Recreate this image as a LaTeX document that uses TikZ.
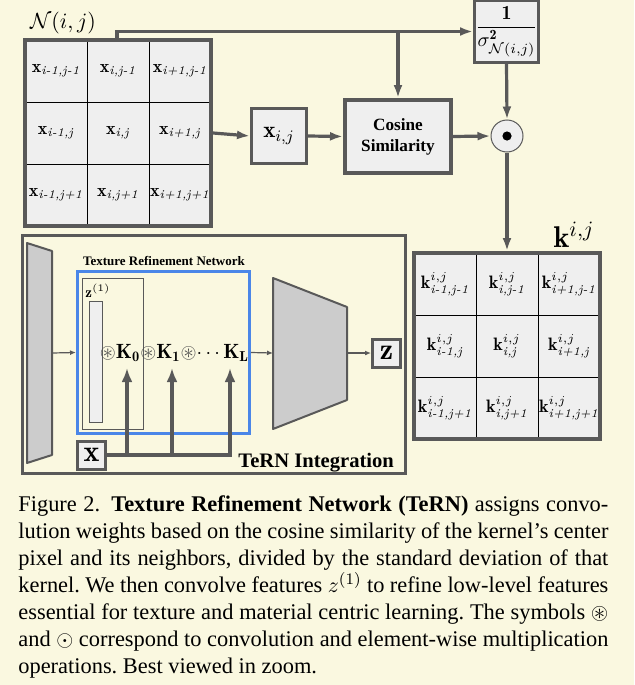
\documentclass[tikz,border=0pt]{standalone}
\usepackage{amssymb}
\usepackage{amsmath}
\usepackage{fontspec}
\newfontfamily\capfont{Liberation Serif}
\usetikzlibrary{positioning,arrows.meta}

\definecolor{bgcream}{RGB}{250,248,224}
\definecolor{linegray}{RGB}{89,89,89}
\definecolor{cellfill}{RGB}{239,239,239}
\definecolor{trapfill}{RGB}{204,204,204}
\definecolor{ternblue}{RGB}{74,134,232}

\begin{document}
\begin{tikzpicture}
           [x=0.5pt,y=-0.5pt,
            cell/.style = {draw=black,line width=0.5pt,fill=cellfill,minimum size=31pt,inner sep=0pt,font=\fontsize{9}{10}\selectfont},
            grid/.style = {draw=linegray,line width=2pt,minimum size=93pt,inner sep=0pt},
            box/.style = {draw=linegray,line width=1.5pt,fill=cellfill,inner sep=0pt},
            flow/.style = {draw=linegray,line width=1.6pt,-{Latex[length=6.5pt,width=4.5pt]}},
            thinflow/.style = {draw=linegray,line width=0.6pt,-{Latex[length=3pt,width=2.5pt]}},
            trap/.style = {draw=linegray,line width=1pt,fill=trapfill,line join=round}]
            \fill[bgcream] (0,0) rectangle (634,685);
            \useasboundingbox (0,0) rectangle (634,685);

            % neighbourhood N(i,j)
            \node[cell] (x11) at (56,71) {$\mathbf{x}_{\textit{i-1,j-1}}$};
            \node[cell] (x21) at (118,71) {$\mathbf{x}_{\textit{i,j-1}}$};
            \node[cell] (x31) at (180,71) {$\mathbf{x}_{\textit{i+1,j-1}}$};
            \node[cell] (x12) at (56,133) {$\mathbf{x}_{\textit{i-1,j}}$};
            \node[cell] (x22) at (118,133) {$\mathbf{x}_{\textit{i,j}}$};
            \node[cell] (x32) at (180,133) {$\mathbf{x}_{\textit{i+1,j}}$};
            \node[cell] (x13) at (56,195) {$\mathbf{x}_{\textit{i-1,j+1}}$};
            \node[cell] (x23) at (118,195) {$\mathbf{x}_{\textit{i,j+1}}$};
            \node[cell] (x33) at (180,195) {$\mathbf{x}_{\textit{i+1,j+1}}$};
            \node[grid] (nbhd) at (118,133) {};
            \node[font=\fontsize{11}{12}\selectfont] (nlab) at (63,23) {$\mathcal{N}(i,j)$};

            \node[box,minimum size=27.5pt,font=\fontsize{11.5}{12}\selectfont] (xij) at (279,136) {$\mathbf{x}_{i,j}$};
            \node[box,line width=2pt,minimum width=53pt,minimum height=36.5pt,align=center,
                  font=\capfont\bfseries\fontsize{8.6}{10.5}\selectfont] (cos) at (398,136.5) {Cosine\\Similarity};
            \node[box,minimum width=32pt,minimum height=31pt,font=\fontsize{10}{11}\selectfont] (sig) at (506.5,31.5)
                 {$\dfrac{\mathbf{1}}{\sigma^{\mathbf{2}}_{\mathcal{N}(i,j)}}$};
            \node[circle,draw=linegray,line width=0.5pt,fill=cellfill,minimum size=16pt,inner sep=0pt] (odot) at (507,136) {};
            \fill (odot.center) circle[radius=2.3pt];

            % kernel k^{i,j}
            \node[cell] (k11) at (445,284) {$\mathbf{k}^{i,j}_{\textit{i-1,j-1}}$};
            \node[cell] (k21) at (507,284) {$\mathbf{k}^{i,j}_{\textit{i,j-1}}$};
            \node[cell] (k31) at (569,284) {$\mathbf{k}^{i,j}_{\textit{i+1,j-1}}$};
            \node[cell] (k12) at (445,346) {$\mathbf{k}^{i,j}_{\textit{i-1,j}}$};
            \node[cell] (k22) at (507,346) {$\mathbf{k}^{i,j}_{\textit{i,j}}$};
            \node[cell] (k32) at (569,346) {$\mathbf{k}^{i,j}_{\textit{i+1,j}}$};
            \node[cell] (k13) at (445,408) {$\mathbf{k}^{i,j}_{\textit{i-1,j+1}}$};
            \node[cell] (k23) at (507,408) {$\mathbf{k}^{i,j}_{\textit{i,j+1}}$};
            \node[cell] (k33) at (569,408) {$\mathbf{k}^{i,j}_{\textit{i+1,j+1}}$};
            \node[grid] (kgrid) at (507,346) {};
            \node[font=\fontsize{15}{16}\selectfont] (klab) at (574,235) {$\mathbf{k}^{i,j}$};

            \coordinate (split) at (117,31.5);
            \path[flow] (split |- nbhd.north) |- (sig.west);
            \path[flow] (cos.north |- sig.west) -- (cos.north);
            \path[flow] (nbhd.east) -- (xij.west);
            \path[flow] (xij.east) -- (cos.west);
            \path[flow] (cos.east) -- (odot.west);
            \path[flow] (sig.south) -- (odot.north);
            \path[flow] (odot.south) -- (kgrid.north);

            % TeRN integration
            \node[draw=linegray,line width=1.5pt,minimum width=191.5pt,minimum height=119pt,inner sep=0pt] (tern) at (214,354.5) {};
            \node[anchor=base east,font=\capfont\bfseries\fontsize{10.3}{12}\selectfont] (ternlab) at (401,467) {TeRN Integration};
            \draw[trap] (27,243) -- (52,251) -- (52,455) -- (27,463) -- cycle;
            \coordinate (encout) at (52,353);
            \node[draw=ternblue,line width=1.5pt,minimum width=86pt,minimum height=81pt,inner sep=0pt] (trn) at (163.5,352.5) {};
            \node[font=\capfont\bfseries\fontsize{6.5}{7}\selectfont] (trnlab) at (164,261) {Texture Refinement Network};
            \node[draw=linegray,line width=0.5pt,minimum width=30.5pt,minimum height=75.5pt,inner sep=0pt] (zblock) at (112.5,353.5) {};
            \node[draw=linegray,line width=0.5pt,fill=cellfill,minimum width=6.5pt,minimum height=60.5pt,inner sep=0pt] (zbar) at (95.5,361.5) {};
            \node[font=\fontsize{7.5}{8}\selectfont] (zlab) at (98,291) {$\mathbf{z}^{(1)}$};
            \node[inner sep=0pt,font=\fontsize{10.3}{11}\selectfont] (kern) at (174.5,353)
                 {$\textcolor{black!70}{\circledast}\mathbf{K_0}\textcolor{black!70}{\circledast}\mathbf{K_1}\textcolor{black!70}{\circledast}\!\cdots\mathbf{K_L}$};
            \draw[trap] (273,278) -- (347,307) -- (347,400) -- (273,429) -- cycle;
            \coordinate (decin) at (273,353);
            \coordinate (decout) at (347,353);
            \node[box,minimum size=14pt,font=\fontsize{15}{16}\selectfont] (zout) at (386.5,353) {$\mathbf{z}$};
            \node[box,minimum size=14pt,font=\fontsize{15}{16}\selectfont] (xin) at (91.5,455) {$\mathbf{x}$};

            \path[thinflow] (encout) -- (trn.west);
            \path[thinflow] (trn.east) -- (decin);
            \path[thinflow] (decout) -- (zout.west);

            \coordinate (t0) at (127,368);
            \coordinate (t1) at (172,368);
            \coordinate (tL) at (230,368);
            \path[flow,-{Latex[length=7pt,width=5.5pt]}] (xin.east) -| (tL);
            \path[flow,-{Latex[length=7pt,width=5.5pt]}] (t0 |- xin.east) -- (t0);
            \path[flow,-{Latex[length=7pt,width=5.5pt]}] (t1 |- xin.east) -- (t1);

            % caption
            \node[anchor=north west,text width=295pt,align=justify,inner sep=0pt,
                  font=\capfont\fontsize{11.2}{13.5}\selectfont\frenchspacing] (cap) at (18,495)
                 {Figure 2.\enspace\textbf{Texture Refinement Network (TeRN)} assigns convo-\linebreak
                  lution weights based on the cosine similarity of the kernel’s center\linebreak
                  pixel and its neighbors, divided by the standard deviation of that\linebreak
                  kernel. We then convolve features $z^{(1)}$ to refine low-level features\linebreak
                  essential for texture and material centric learning. The symbols $\circledast$\linebreak
                  and $\odot$ correspond to convolution and element-wise multiplication\linebreak
                  operations. Best viewed in zoom.};
        \end{tikzpicture}
\end{document}
